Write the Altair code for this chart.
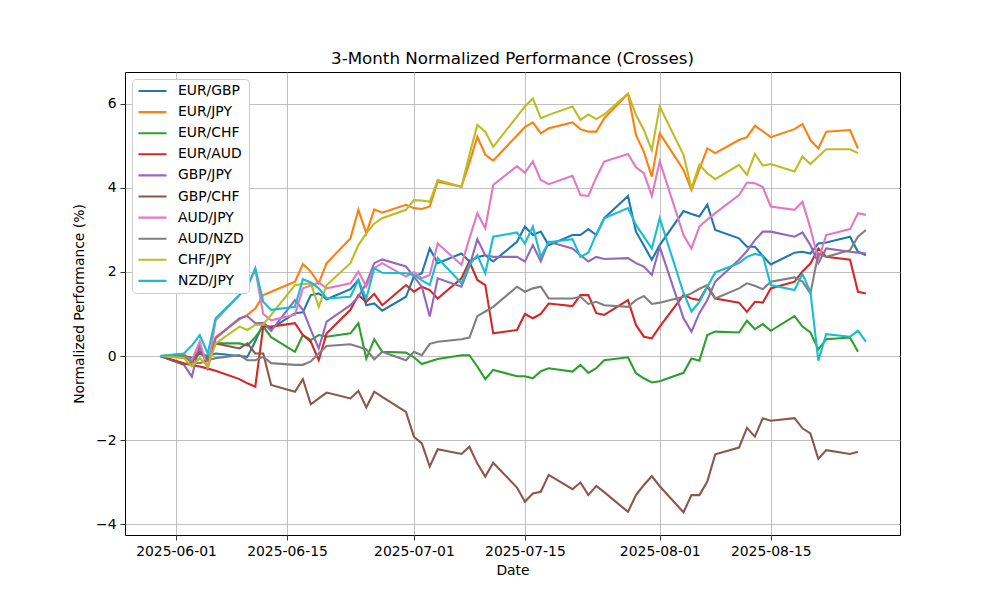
import altair as alt
import pandas as pd

dates = ["2025-05-30", "2025-06-02", "2025-06-03", "2025-06-04", "2025-06-05", "2025-06-06",
         "2025-06-09", "2025-06-10", "2025-06-11", "2025-06-12", "2025-06-13",
         "2025-06-16", "2025-06-17", "2025-06-18", "2025-06-19", "2025-06-20",
         "2025-06-23", "2025-06-24", "2025-06-25", "2025-06-26", "2025-06-27",
         "2025-06-30", "2025-07-01", "2025-07-02", "2025-07-03", "2025-07-04",
         "2025-07-07", "2025-07-08", "2025-07-09", "2025-07-10", "2025-07-11",
         "2025-07-14", "2025-07-15", "2025-07-16", "2025-07-17", "2025-07-18",
         "2025-07-21", "2025-07-22", "2025-07-23", "2025-07-24", "2025-07-25",
         "2025-07-28", "2025-07-29", "2025-07-30", "2025-07-31", "2025-08-01",
         "2025-08-04", "2025-08-05", "2025-08-06", "2025-08-07", "2025-08-08",
         "2025-08-11", "2025-08-12", "2025-08-13", "2025-08-14", "2025-08-15",
         "2025-08-18", "2025-08-19", "2025-08-20", "2025-08-21", "2025-08-22",
         "2025-08-25", "2025-08-26", "2025-08-27"]

eur_gbp = [0, 0.0, -0.05, 0.05, 0.0, 0.06, 0.0, -0.02, 0.35, 0.78, 0.65,
           1.02, 1.04, 1.45, 1.49, 1.35, 1.59, 1.81, 1.21, 1.25, 1.08,
           1.41, 1.89, 1.97, 2.56, 2.21, 2.44, 2.25, 2.35, 2.40, 2.25,
           2.72, 3.08, 2.88, 2.96, 2.64, 2.88, 2.88, 3.02, 2.88, 3.28,
           3.81, 2.96, 2.63, 2.29, 2.64, 3.45, 3.38, 3.32, 3.60, 3.00,
           2.80, 2.60, 2.60, 2.38, 2.18, 2.46, 2.48, 2.44, 2.68, 2.70,
           2.84, 2.48, 2.40]
eur_jpy = [0, 0.05, -0.15, 0.2, -0.1, 0.45, 0.87, 0.98, 1.13, 1.45, 1.53,
           1.77, 2.19, 2.01, 1.73, 2.21, 2.80, 3.48, 2.92, 3.49, 3.41,
           3.60, 3.52, 3.50, 3.56, 4.15, 4.03, 4.60, 5.22, 4.79, 4.65,
           5.25, 5.45, 5.56, 5.30, 5.42, 5.56, 5.40, 5.34, 5.34, 5.66,
           6.24, 5.26, 4.86, 4.27, 5.30, 4.43, 3.95, 4.45, 4.94, 4.83,
           5.14, 5.21, 5.48, 5.35, 5.21, 5.40, 5.52, 5.14, 4.94, 5.34,
           5.38, 4.94, None]
eur_chf = [0, 0.0, -0.05, 0.1, -0.05, 0.3, 0.3, 0.25, 0.45, 0.70, 0.45,
           0.10, 0.50, 0.38, 0.50, 0.46, 0.54, 0.78, -0.06, 0.40, 0.10,
           0.08, -0.03, -0.19, -0.13, -0.07, 0.02, 0.02, -0.25, -0.55, -0.33,
           -0.48, -0.48, -0.53, -0.36, -0.29, -0.37, -0.21, -0.40, -0.29, -0.10,
           -0.03, -0.41, -0.53, -0.63, -0.60, -0.40, -0.06, -0.11, 0.50, 0.58,
           0.56, 0.84, 0.64, 0.76, 0.60, 0.95, 0.70, 0.56, 0.16, 0.40,
           0.44, 0.10, None]
eur_aud = [0, -0.17, -0.22, -0.25, -0.30, -0.35, -0.55, -0.65, -0.73, 0.70, 0.70,
           0.78, 0.50, 0.34, -0.10, 0.54, 1.10, 1.45, 1.29, 1.48, 1.21,
           1.69, 1.53, 1.65, 1.57, 1.37, 1.85, 2.25, 1.81, 1.69, 0.54,
           0.62, 1.00, 0.90, 1.00, 1.25, 1.19, 1.45, 1.45, 1.02, 0.98,
           1.33, 0.74, 0.46, 0.42, 0.70, 1.45, 1.37, 1.33, 1.65, 1.37,
           1.27, 1.05, 1.29, 1.27, 1.61, 1.77, 2.01, 2.20, 2.56, 2.36,
           2.29, 1.53, 1.49]
gbp_jpy = [0, -0.21, -0.49, 0.26, -0.29, 0.42, 0.90, 0.95, 0.78, 0.79, 0.60,
           1.33, 1.10, 0.62, 0.18, 0.82, 1.21, 1.41, 1.73, 2.21, 2.30,
           2.13, 1.89, 1.65, 0.94, 1.85, 1.65, 2.13, 2.78, 2.40, 2.36,
           2.36, 2.25, 2.64, 2.25, 2.72, 2.56, 2.40, 2.25, 2.36, 2.31,
           2.33, 2.21, 2.13, 1.93, 2.60, 0.90, 0.58, 1.02, 1.33, 1.77,
           2.29, 2.50, 2.76, 2.96, 2.96, 2.84, 2.94, 2.64, 2.21, 2.56,
           2.48, 2.46, 2.44]
gbp_chf = [0, -0.20, -0.15, 0.10, -0.10, 0.30, 0.18, 0.30, 0.06, 0.06, -0.69,
           -0.85, -0.55, -1.15, -1.01, -0.87, -1.01, -0.83, -1.22, -0.85, -0.97,
           -1.33, -1.92, -2.08, -2.63, -2.22, -2.33, -2.16, -2.56, -2.87, -2.54,
           -3.13, -3.47, -3.27, -3.23, -2.83, -3.17, -3.01, -3.31, -3.09, -3.24,
           -3.71, -3.31, -3.07, -2.86, -3.10, -3.72, -3.31, -3.31, -2.99, -2.34,
           -2.18, -1.71, -1.92, -1.48, -1.54, -1.48, -1.72, -1.84, -2.45, -2.24,
           -2.33, -2.28, None]
aud_jpy = [0, 0.0, -0.1, 0.35, -0.3, 0.85, 1.45, 1.65, 2.05, 1.00, 0.85,
           0.98, 1.61, 1.68, 1.75, 1.61, 1.73, 2.01, 1.65, 2.09, 2.21,
           1.89, 2.00, 1.85, 1.93, 2.68, 2.17, 2.80, 3.40, 3.04, 4.07,
           4.52, 4.36, 4.63, 4.19, 4.09, 4.29, 3.83, 3.81, 4.25, 4.63,
           4.81, 4.49, 4.35, 3.81, 4.63, 2.88, 2.56, 3.08, 3.25, 3.40,
           3.83, 4.13, 4.11, 4.02, 3.56, 3.48, 3.67, 3.04, 2.29, 2.88,
           3.02, 3.40, 3.36]
aud_nzd = [0, 0.0, -0.15, -0.17, -0.10, -0.05, 0.02, -0.10, -0.10, -0.02, -0.17,
           -0.21, -0.21, -0.13, 0.06, 0.24, 0.28, 0.22, 0.16, -0.08, 0.10,
           -0.10, 0.10, 0.02, 0.29, 0.34, 0.40, 0.44, 0.95, 1.06, 1.17,
           1.65, 1.53, 1.61, 1.65, 1.37, 1.37, 1.41, 1.24, 1.29, 1.21,
           1.17, 1.33, 1.43, 1.24, 1.27, 1.41, 1.49, 1.60, 1.69, 1.37,
           1.61, 1.73, 1.67, 1.59, 1.77, 1.87, 1.77, 1.49, 2.44, 2.36,
           2.52, 2.84, 3.00]
chf_jpy = [0, -0.05, -0.25, -0.05, -0.25, 0.30, 0.70, 0.62, 0.74, 0.75, 0.98,
           1.69, 1.71, 1.73, 1.17, 1.69, 2.21, 2.64, 2.92, 3.15, 3.28,
           3.48, 3.71, 3.70, 3.67, 4.19, 4.03, 4.79, 5.50, 5.34, 4.98,
           5.70, 5.94, 6.13, 5.66, 5.74, 5.94, 5.62, 5.75, 5.64, 5.75,
           6.25, 5.74, 5.38, 4.90, 5.94, 4.79, 3.99, 4.55, 4.35, 4.21,
           4.55, 4.31, 4.81, 4.53, 4.57, 4.39, 4.75, 4.57, 4.75, 4.92,
           4.92, 4.83, None]
nzd_jpy = [0, 0.06, 0.25, 0.50, 0.06, 0.90, 1.45, 1.65, 2.09, 1.29, 1.10,
           1.17, 1.83, 1.75, 1.61, 1.37, 1.41, 1.81, 1.37, 2.09, 1.98,
           1.97, 1.93, 1.80, 1.69, 2.33, 1.73, 2.17, 2.40, 1.97, 2.84,
           2.94, 2.68, 3.08, 2.36, 2.71, 2.78, 2.36, 2.46, 2.90, 3.28,
           3.52, 3.12, 2.84, 2.56, 3.28, 1.50, 1.06, 1.29, 1.65, 1.99,
           2.21, 2.36, 2.43, 2.39, 1.69, 1.57, 1.95, 1.53, -0.11, 0.52,
           0.46, 0.60, 0.34]

pairs = ["EUR/GBP", "EUR/JPY", "EUR/CHF", "EUR/AUD", "GBP/JPY",
         "GBP/CHF", "AUD/JPY", "AUD/NZD", "CHF/JPY", "NZD/JPY"]
colors = ["#1f77b4", "#ff7f0e", "#2ca02c", "#d62728", "#9467bd",
          "#8c564b", "#e377c2", "#7f7f7f", "#bcbd22", "#17becf"]
series = [eur_gbp, eur_jpy, eur_chf, eur_aud, gbp_jpy,
          gbp_chf, aud_jpy, aud_nzd, chf_jpy, nzd_jpy]

rows = []
for k, (name, vals) in enumerate(zip(pairs, series)):
    for d, v in zip(dates, vals):
        if v is not None:
            rows.append({"Date": d, "Pair": name, "Value": v, "k": k})
df = pd.DataFrame(rows)

FONT = "DejaVu Sans"
tick_dates = [alt.DateTime(year=2025, month=m, date=d, utc=True)
              for m, d in [(6, 1), (6, 15), (7, 1), (7, 15), (8, 1), (8, 15)]]

chart = alt.Chart(df).mark_line(strokeWidth=2.1).encode(
    x=alt.X("Date:T",
            scale=alt.Scale(type="utc",
                            domain=[alt.DateTime(year=2025, month=5, date=25, hours=13, minutes=40, utc=True),
                                    alt.DateTime(year=2025, month=8, date=31, hours=7, minutes=10, utc=True)]),
            axis=alt.Axis(values=tick_dates, format="%Y-%m-%d", title="Date",
                          labelPadding=4, titlePadding=6)),
    y=alt.Y("Value:Q",
            scale=alt.Scale(domain=[-4.26, 6.76], nice=False, zero=False),
            axis=alt.Axis(values=[-4, -2, 0, 2, 4, 6], title="Normalized Performance (%)",
                          labelPadding=4, titlePadding=9)),
    color=alt.Color("Pair:N",
                    scale=alt.Scale(domain=pairs, range=colors),
                    legend=alt.Legend(title=None, orient="none", legendX=7, legendY=7,
                                      symbolType="stroke", symbolSize=784, symbolStrokeWidth=2.1,
                                      labelFont=FONT, labelFontSize=13.9, labelColor="black",
                                      labelOffset=10, clipHeight=14, rowPadding=7.1,
                                      padding=5, fillColor="white", strokeColor="#cccccc",
                                      cornerRadius=4)),
    order=alt.Order("k:Q"),
    detail="Pair:N",
).properties(
    width=775, height=463,
    title=alt.TitleParams("3-Month Normalized Performance (Crosses)", font=FONT, fontSize=16.7,
                          fontWeight="normal", color="black", anchor="middle", offset=4),
    autosize=alt.AutoSizeParams(type="none"),
    padding={"left": 117, "top": 64, "right": 92, "bottom": 57},
).configure_view(
    stroke="black", strokeWidth=1
).configure_axis(
    grid=True, gridColor="#b0b0b0", gridWidth=0.8,
    domain=False, tickColor="black", tickSize=5, tickWidth=0.8,
    labelFont=FONT, labelFontSize=13.9, labelColor="black",
    titleFont=FONT, titleFontSize=13.9, titleFontWeight="normal", titleColor="black",
)

chart.save("out.html", embed_options={"renderer": "svg", "actions": False})
